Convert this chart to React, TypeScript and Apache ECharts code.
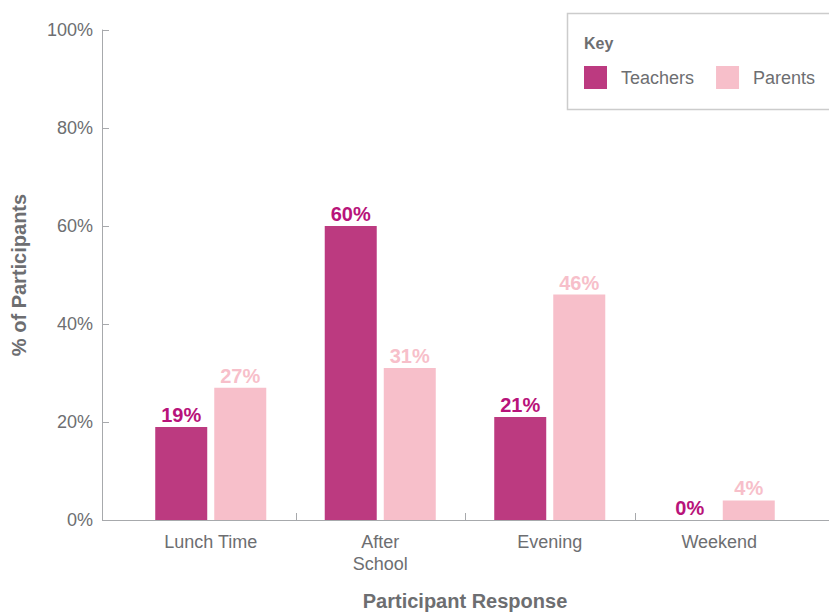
import React, { useEffect, useRef } from "react";
import * as echarts from "echarts";

const categories = ["Lunch Time", "After\nSchool", "Evening", "Weekend"];
const teachers = [19, 60, 21, 0];
const parents = [27, 31, 46, 4];
const seriesNames = ["Teachers", "Parents"];
const yMin = 0;
const yMax = 100;
const yStep = 20;

const FONT = "'Liberation Sans', Arial, Helvetica, sans-serif";
const GREY = "#6d6e71";
const AXIS = "#a7a9ac";
const TEACH = "#bc3a80";
const PARENT = "#f7bfca";
const TEACH_LABEL = "#b8137a";
const PARENT_LABEL = "#f7bfca";

export default function App() {
  const ref = useRef<HTMLDivElement>(null);
  useEffect(() => {
    if (!ref.current) return;
    const chart = echarts.init(ref.current, undefined, { renderer: "svg" });
    const labelBase = {
      show: true,
      position: "top" as const,
      distance: 2,
      fontFamily: FONT,
      fontWeight: "bold" as const,
      fontSize: 20,
      formatter: "{c}%",
    };
    chart.setOption({
      animation: false,
      textStyle: { fontFamily: FONT },
      grid: { left: 126, right: 25, top: 30, bottom: 92, containLabel: false },
      legend: {
        left: 579,
        top: 61,
        itemWidth: 23,
        itemHeight: 23,
        itemGap: 22,
        icon: "rect",
        data: seriesNames,
        textStyle: { color: GREY, fontSize: 18, fontFamily: FONT, padding: [0, 0, 0, 9] },
        z: 10,
      },
      xAxis: {
        type: "category",
        data: categories,
        axisLine: { show: false },
        axisTick: { show: false },
        axisLabel: { color: GREY, fontSize: 18, fontFamily: FONT, margin: 11, lineHeight: 22 },
        name: "Participant Response",
        nameLocation: "middle",
        nameGap: 71,
        nameTextStyle: { color: GREY, fontSize: 20, fontWeight: "bold", fontFamily: FONT },
      },
      yAxis: {
        type: "value",
        min: yMin,
        max: yMax,
        interval: yStep,
        offset: 24,
        axisLine: { show: true, lineStyle: { color: AXIS, width: 1 } },
        axisTick: { show: true, inside: true, length: 7, lineStyle: { color: AXIS } },
        splitLine: { show: false },
        axisLabel: { color: GREY, fontSize: 18, fontFamily: FONT, margin: 9, formatter: "{value}%" },
        name: "% of Participants",
        nameLocation: "middle",
        nameGap: 73,
        nameTextStyle: { color: GREY, fontSize: 20, fontWeight: "bold", fontFamily: FONT },
      },
      series: [
        {
          name: seriesNames[0],
          type: "bar",
          data: teachers,
          barWidth: 52,
          barGap: "13.5%",
          itemStyle: { color: TEACH },
          label: { ...labelBase, color: TEACH_LABEL },
        },
        {
          name: seriesNames[1],
          type: "bar",
          data: parents,
          barWidth: 52,
          barGap: "13.5%",
          itemStyle: { color: PARENT },
          label: { ...labelBase, color: PARENT_LABEL },
        },
      ],
    });

    const y0 = chart.convertToPixel({ yAxisIndex: 0 }, yMin) as number;
    const c0 = chart.convertToPixel({ xAxisIndex: 0 }, 0) as number;
    const c1 = chart.convertToPixel({ xAxisIndex: 0 }, 1) as number;
    const yAxisX = c0 - (c1 - c0) / 2 - 24;
    const tickEls: any[] = [];
    for (let i = 1; i < categories.length; i++) {
      const a = chart.convertToPixel({ xAxisIndex: 0 }, i - 1) as number;
      const b = chart.convertToPixel({ xAxisIndex: 0 }, i) as number;
      const x = Math.round((a + b) / 2) + 0.5;
      tickEls.push({
        type: "line",
        shape: { x1: x, y1: y0, x2: x, y2: y0 - 7 },
        style: { stroke: AXIS, lineWidth: 1 },
        z: 5,
      });
    }
    chart.setOption({
      graphic: [
        {
          type: "rect",
          shape: { x: 567.5, y: 13.5, width: 280, height: 96 },
          style: { fill: "#fff", stroke: "#cccccc", lineWidth: 1.5 },
          z: 1,
        },
        {
          type: "text",
          x: 584,
          y: 43,
          style: {
            text: "Key",
            fill: GREY,
            font: `bold 16px ${FONT}`,
            verticalAlign: "middle",
          },
          z: 2,
        },
        {
          type: "line",
          shape: { x1: yAxisX, y1: Math.round(y0) + 0.5, x2: 829, y2: Math.round(y0) + 0.5 },
          style: { stroke: AXIS, lineWidth: 1 },
          z: 5,
        },
        ...tickEls,
      ],
    });
    return () => chart.dispose();
  }, []);
  return (
    <div
      ref={ref}
      style={{ position: "fixed", left: 0, top: 0, width: 829, height: 616, background: "#fff" }}
    />
  );
}
